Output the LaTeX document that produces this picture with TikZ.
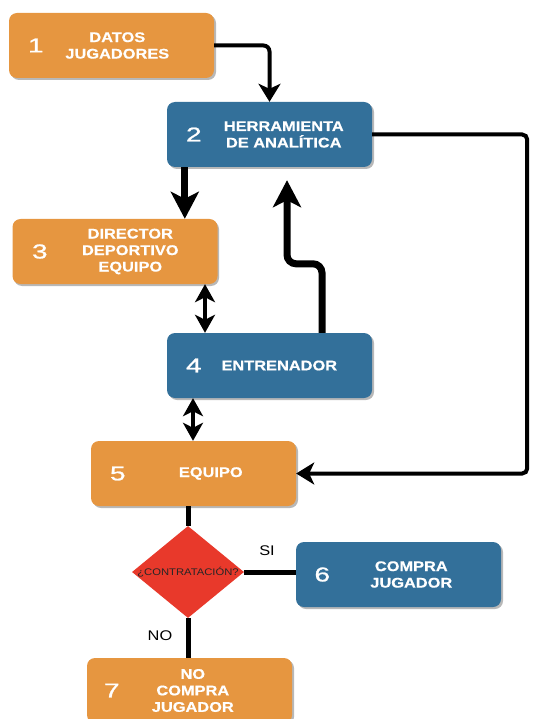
\documentclass[tikz,border=0pt]{standalone}
\usepackage{fontspec}
\setmainfont{Liberation Sans}[FakeStretch=1.17]
\newfontfamily\numfont{Liberation Sans}[FakeStretch=1.4, FakeBold=1.2]
\newfontfamily\headfont{Liberation Sans}[FakeStretch=1.17, FakeBold=0.6]
\usetikzlibrary{arrows.meta,shapes.geometric,calc}
\definecolor{boxorange}{HTML}{E69640}
\definecolor{boxblue}{HTML}{33709A}
\definecolor{decred}{HTML}{E8392B}
\tikzset{
  card/.style={rectangle, rounded corners=8pt, minimum width=205pt, minimum height=65pt,
    inner sep=0pt, draw=none},
  orangecard/.style={card, fill=boxorange},
  bluecard/.style={card, fill=boxblue},
  cardshadow/.style={fill=black!28, rounded corners=8pt},
  num/.style={text=white, font=\numfont\fontsize{20}{20}\selectfont, inner sep=0pt},
  lbl/.style={text=white, font=\headfont\bfseries\fontsize{14}{16.5}\selectfont, align=center, inner sep=0pt},
  thin/.style={line width=4pt, draw=black},
  heavy/.style={line width=7pt, draw=black},
  bigtip/.style={-{Stealth[length=27pt,width=28pt,inset=7pt]}},
  smalltip/.style={-{Stealth[length=18pt,width=22pt,inset=5pt]}},
  dbltip/.style={{Stealth[length=18pt,width=20pt,inset=5pt]}-{Stealth[length=18pt,width=20pt,inset=5pt]}},
  tag/.style={font=\fontsize{14}{14}\selectfont, text=black, inner sep=0pt},
}
\begin{document}
\begin{tikzpicture}[x=1pt,y=-1pt]
\useasboundingbox (0,0) rectangle (534,719);
\clip (0,0) rectangle (534,719);

% card shadows
\foreach \x/\y in {9/13, 167/102, 12/219, 167/333, 91/441, 296/542, 87/658}
  \fill[cardshadow] (\x+2,\y+2) rectangle ++(205,65);

% cards
\node[orangecard] (b1) at (111.5,45.5) {};
\node[bluecard]   (b2) at (269.5,134.5) {};
\node[orangecard] (b3) at (115,251.5) {};
\node[bluecard]   (b4) at (269.5,365.5) {};
\node[orangecard] (b5) at (193.5,473.5) {};
\node[bluecard]   (b6) at (398.5,574.5) {};
\node[orangecard] (b7) at (189.5,690.5) {};

% decision diamond
\node[diamond, fill=decred, minimum width=112pt, minimum height=92pt, inner sep=0pt,
      aspect=1.2] (d) at (188,572) {};
\node[font=\fontsize{9.6}{9.6}\selectfont, text=black!85, inner sep=0pt] (dq) at (d.center) {¿CONTRATACIÓN?};

% numbers
\node[num] (n1) at ([xshift=27pt]b1.west) {1};
\node[num] (n2) at ([xshift=27pt]b2.west) {2};
\node[num] (n3) at ([xshift=27.5pt]b3.west) {3};
\node[num] (n4) at ([xshift=27pt]b4.west) {4};
\node[num] (n5) at ([xshift=27pt]b5.west) {5};
\node[num] (n6) at ([xshift=26.5pt]b6.west) {6};
\node[num] (n7) at ([xshift=25pt]b7.west) {7};

% titles
\node[lbl] (t1) at ([xshift=108.5pt]b1.west) {DATOS\\JUGADORES};
\node[lbl] (t2) at ([xshift=117pt]b2.west) {HERRAMIENTA\\DE ANALÍTICA};
\node[lbl] (t3) at ([xshift=118pt]b3.west) {DIRECTOR\\DEPORTIVO\\EQUIPO};
\node[lbl] (t4) at ([xshift=112.5pt]b4.west) {ENTRENADOR};
\node[lbl] (t5) at ([xshift=120pt]b5.west) {EQUIPO};
\node[lbl] (t6) at ([xshift=115.5pt]b6.west) {COMPRA\\JUGADOR};
\node[lbl] (t7) at ([xshift=106pt]b7.west) {NO\\COMPRA\\JUGADOR};

% connectors
\draw[thin, smalltip, rounded corners=6pt] (b1.east) -| (b2.north);
\draw[heavy, bigtip] ([xshift=18pt]b2.south west) -- ([xshift=18pt]b2.south west |- b3.north);
\coordinate (up4) at ([xshift=52.5pt]b4.north);
\coordinate (tip2) at ([xshift=17.5pt,yshift=-13pt]b2.south);
\draw[heavy, bigtip, rounded corners=9pt] (up4) -- ($(up4)+(0,-69)$) -| (tip2);
\draw[thin, smalltip, rounded corners=5pt] (b2.east) -- ++(155,0) |- (b5.east);
\draw[thin, dbltip] ([xshift=-64.5pt]b4.north |- b3.south) -- ([xshift=-64.5pt]b4.north);
\draw[thin, dbltip] ([xshift=-76.5pt]b4.south) -- ([xshift=-76.5pt]b4.south |- b5.north);
\draw[line width=5pt] (b5.south -| d.north) -- (d.north);
\draw[line width=5pt] (d.east) -- (d.east -| b6.west);
\draw[line width=5pt] (d.south) -- (d.south |- b7.north);

% branch labels
\node[tag] (si) at (267,551) {SI};
\node[tag] (no) at (160,636) {NO};
\end{tikzpicture}
\end{document}
